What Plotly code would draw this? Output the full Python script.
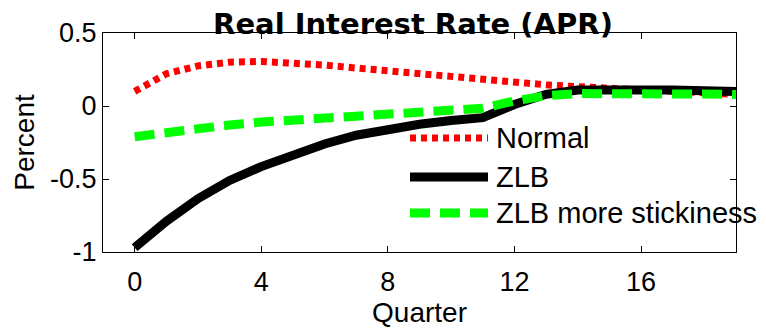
import plotly.graph_objects as go

# Quarter index and simulated responses of the real interest rate (percent, APR)
quarters = list(range(20))
normal = [0.10, 0.22, 0.275, 0.30, 0.305, 0.295, 0.28, 0.26, 0.24, 0.215,
          0.195, 0.175, 0.16, 0.145, 0.132, 0.12, 0.11, 0.10, 0.09, 0.08]
zlb = [-0.97, -0.79, -0.635, -0.51, -0.415, -0.33, -0.26, -0.20, -0.155, -0.125,
       -0.10, -0.08, 0.01, 0.08, 0.11, 0.115, 0.115, 0.11, 0.105, 0.10]
zlb_sticky = [-0.21, -0.18, -0.155, -0.13, -0.11, -0.095, -0.08, -0.065, -0.05, -0.04,
              -0.03, -0.015, 0.035, 0.07, 0.085, 0.088, 0.087, 0.085, 0.082, 0.078]

series_names = ["Normal", "ZLB", "ZLB more stickiness"]
x_ticks = [0, 4, 8, 12, 16]
y_ticks = [0.5, 0, -0.5, -1]
y_tick_text = ["0.5", "0", "-0.5", "-1"]

FONT = "Liberation Sans, Arial, sans-serif"
TITLE_FONT = "DejaVu Sans, sans-serif"
W, H = 766, 333
L, R, T, B = 103, 30, 33, 81

styles = [
    dict(color="#ff0000", width=7, dash="6px,5px"),
    dict(color="#000000", width=9, dash="solid"),
    dict(color="#00ff00", width=9, dash="20px,10px"),
]

fig = go.Figure()
for name, ys, st in zip(series_names, [normal, zlb, zlb_sticky], styles):
    fig.add_trace(go.Scatter(x=quarters, y=ys, mode="lines", name=name,
                             line=st, showlegend=False))

# Hand-placed legend (no frame), key lines drawn in paper coordinates
plot_w = W - L - R
plot_h = H - T - B
def px_x(p):
    return (p - L) / plot_w
def px_y(p):
    return (H - B - p) / plot_h

key_x0, key_x1, text_x = 410, 488, 494
rows = [138, 177, 213]
shapes = []
annotations = []
for name, st, ry in zip(series_names, styles, rows):
    shapes.append(dict(type="line", xref="paper", yref="paper",
                       x0=px_x(key_x0), x1=px_x(key_x1), y0=px_y(ry), y1=px_y(ry),
                       line=st, layer="above"))
    annotations.append(dict(xref="paper", yref="paper", x=px_x(text_x), y=px_y(ry),
                            xanchor="left", yanchor="middle", text=name, showarrow=False,
                            font=dict(family=FONT, size=29, color="black")))

fig.update_layout(
    width=W, height=H,
    margin=dict(l=L, r=R, t=T, b=B, autoexpand=False),
    paper_bgcolor="white", plot_bgcolor="white",
    font=dict(family=FONT, size=27, color="black"),
    title=dict(text="<b>Real Interest Rate (APR)</b>", xref="container", yref="container",
               x=413 / W, y=1 - 24 / H, xanchor="center", yanchor="middle",
               font=dict(family=TITLE_FONT, size=29, color="black")),
    shapes=shapes,
    annotations=annotations,
    xaxis=dict(range=[-1, 19], tickvals=x_ticks, ticks="inside", ticklen=6,
               showline=True, linecolor="black", linewidth=1, mirror="allticks",
               showgrid=False, zeroline=False, tickcolor="black", automargin=False,
               tickfont=dict(family=FONT, size=27), ticklabelstandoff=6,
               title=dict(text="Quarter", font=dict(family=FONT, size=28), standoff=5)),
    yaxis=dict(range=[-1, 0.5], tickvals=y_ticks, ticktext=y_tick_text, ticks="inside",
               ticklen=6, showline=True, linecolor="black", linewidth=1, mirror="allticks",
               showgrid=False, zeroline=False, tickcolor="black", automargin=False,
               tickfont=dict(family=FONT, size=27),
               title=dict(text="Percent", font=dict(family=FONT, size=28), standoff=7)),
)

fig.write_html("out.html")
